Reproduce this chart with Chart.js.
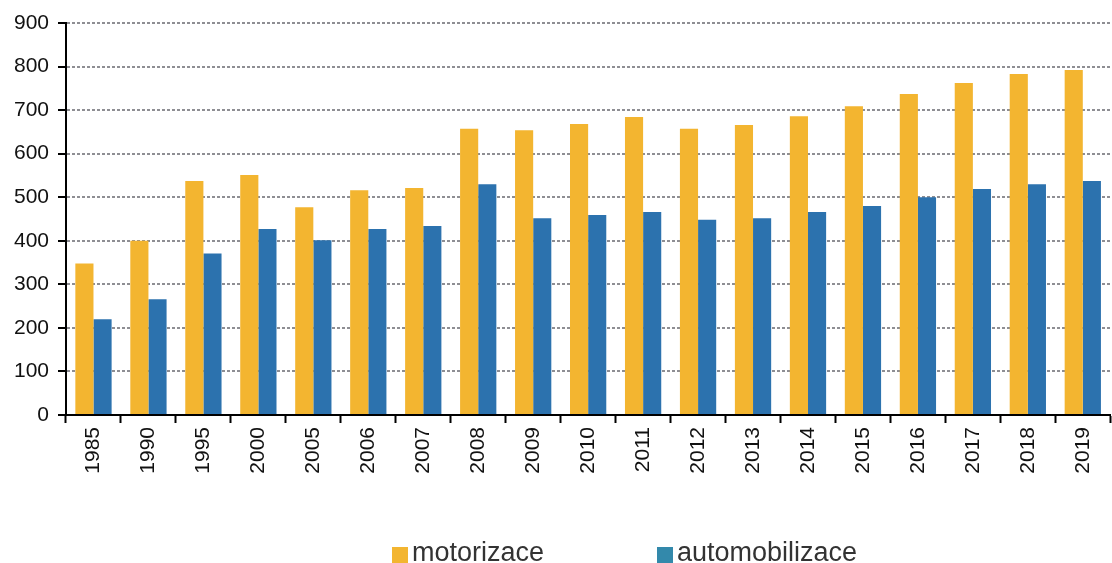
<!DOCTYPE html>
<html>
<head>
<meta charset="utf-8">
<script src="https://cdn.jsdelivr.net/npm/chart.js@4/dist/chart.umd.min.js"></script>
<style>
  html, body { margin: 0; padding: 0; background: #fff; }
  #wrap { width: 1112px; height: 563px; }
</style>
</head>
<body>
<div id="wrap"><canvas id="graf"></canvas></div>
<script>
const roky = ['1985', '1990', '1995', '2000', '2005', '2006', '2007', '2008', '2009', '2010',
  '2011', '2012', '2013', '2014', '2015', '2016', '2017', '2018', '2019'];
const motorizace = [348, 400, 537, 551, 477, 516, 521, 657, 654, 668,
  684, 657, 666, 686, 709, 737, 762, 783, 792];
const automobilizace = [220, 266, 371, 427, 401, 427, 434, 530, 452, 459,
  466, 448, 452, 466, 480, 500, 519, 530, 537];
const yTicks = [0, 100, 200, 300, 400, 500, 600, 700, 800, 900];

const font = 'Liberation Sans, Arial, sans-serif';

// legenda kreslena rucne, aby sedela pozice jako v originale
const legendaPlugin = {
  id: 'legenda',
  afterDraw(chart) {
    const ctx = chart.ctx;
    const polohy = [392, 657];
    const barvy = ['#F3B530', '#3389AB'];
    ctx.save();
    ctx.font = '27px ' + font;
    ctx.textBaseline = 'alphabetic';
    chart.data.datasets.forEach((ds, i) => {
      ctx.fillStyle = barvy[i];
      ctx.fillRect(polohy[i], 547, 16, 16);
      ctx.fillStyle = '#333';
      ctx.fillText(ds.label, polohy[i] + 20, 561);
    });
    ctx.restore();
  },
};

new Chart(document.getElementById('graf'), {
  type: 'bar',
  data: {
    labels: roky,
    datasets: [
      {
        label: 'motorizace',
        data: motorizace,
        backgroundColor: '#F3B530',
      },
      {
        label: 'automobilizace',
        data: automobilizace,
        backgroundColor: '#2C72AE',
      },
    ],
  },
  options: {
    responsive: true,
    maintainAspectRatio: false,
    animation: false,
    categoryPercentage: 0.66,
    barPercentage: 1.0,
    layout: { padding: { top: 23, right: 0, bottom: 0, left: 0 } },
    plugins: {
      legend: { display: false },
      tooltip: { enabled: false },
    },
    scales: {
      x: {
        afterFit: (scale) => { scale.height = 148; },
        border: { color: '#000', width: 2, z: 1 },
        grid: {
          drawOnChartArea: false,
          tickColor: '#000',
          tickWidth: 2,
          tickLength: 8,
        },
        ticks: {
          minRotation: 90,
          maxRotation: 90,
          color: '#111',
          padding: 4,
          font: { family: font, size: 21 },
        },
      },
      y: {
        min: 0,
        max: 900,
        afterFit: (scale) => { scale.width = 66; },
        afterBuildTicks: (scale) => { scale.ticks = yTicks.map((v) => ({ value: v })); },
        border: { color: '#000', width: 2, dash: [3, 2] },
        grid: {
          color: '#8e8e93',
          lineWidth: 2,
          tickColor: '#000',
          tickWidth: 2,
          tickLength: 8,
          tickBorderDash: [1, 0],
        },
        ticks: {
          color: '#111',
          padding: 9,
          font: { family: font, size: 21 },
        },
      },
    },
  },
  plugins: [legendaPlugin],
});
</script>
</body>
</html>
